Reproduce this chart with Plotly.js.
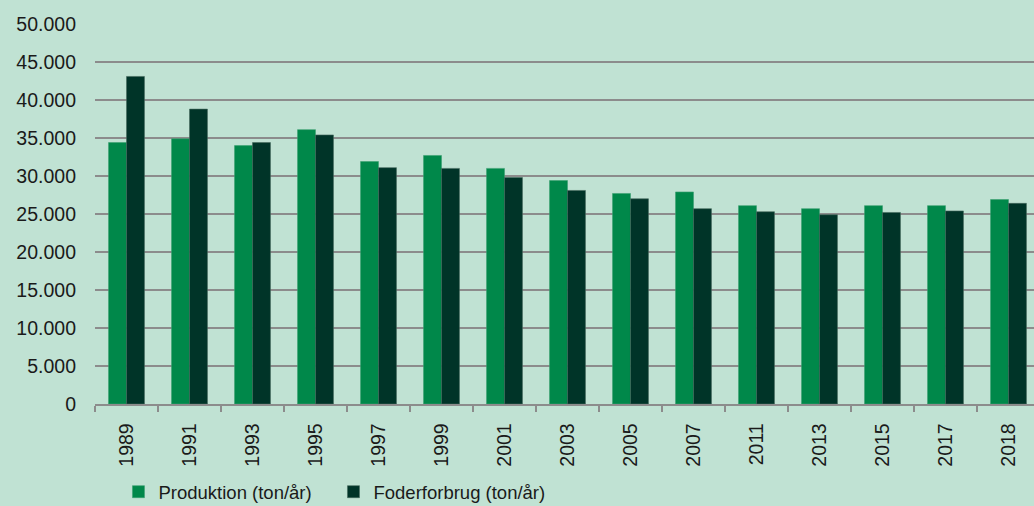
<!DOCTYPE html>
<html>
<head>
<meta charset="utf-8">
<script src="https://cdn.plot.ly/plotly-3.0.1.min.js"></script>
<style>html,body{margin:0;padding:0;background:#c0e2d3;}#chart{width:1034px;height:506px;}</style>
</head>
<body>
<div id="chart"></div>
<script>
const years = ["1989","1991","1993","1995","1997","1999","2001","2003","2005","2007","2011","2013","2015","2017","2018"];
const produktion = [34400, 34900, 34000, 36100, 31900, 32700, 31000, 29400, 27700, 27900, 26100, 25700, 26100, 26100, 26900];
const foderforbrug = [43100, 38800, 34400, 35400, 31100, 31000, 29800, 28100, 27000, 25700, 25300, 24900, 25200, 25400, 26400];
const yTicks = [0, 5000, 10000, 15000, 20000, 25000, 30000, 35000, 40000, 45000, 50000];
const yTickText = ["0", "5.000", "10.000", "15.000", "20.000", "25.000", "30.000", "35.000", "40.000", "45.000", "50.000"];

const traces = [
  {type: "bar", name: "Produktion (ton/år)", x: years, y: produktion,
   marker: {color: "#00884a", line: {color: "#3aa070", width: 0.6}}},
  {type: "bar", name: "Foderforbrug (ton/år)", x: years, y: foderforbrug,
   marker: {color: "#003428", line: {color: "#44685c", width: 0.6}}}
];

const layout = {
  width: 1034, height: 506,
  paper_bgcolor: "#c0e2d3", plot_bgcolor: "#c0e2d3",
  margin: {l: 95, r: 0, t: 24, b: 102, autoexpand: false},
  font: {family: "Liberation Sans, Arial, sans-serif", size: 19, color: "#1a1a1a"},
  barmode: "group", bargap: 0.43, bargroupgap: 0,
  xaxis: {type: "category", range: [-0.5, 14.405], tickangle: -90, automargin: false,
          showline: true, linecolor: "#8c8c8c", linewidth: 1.5,
          ticks: "outside", tickson: "boundaries", ticklen: 6, tickcolor: "#8c8c8c", tickwidth: 1.5,
          ticklabelstandoff: 10, tickfont: {size: 19.5}, showgrid: false, fixedrange: true},
  yaxis: {range: [0, 50000], tickvals: yTicks, ticktext: yTickText, automargin: false,
          showgrid: true, gridcolor: "#8c8c8c", gridwidth: 1.5, zeroline: false,
          showline: false, ticks: "", ticklabelstandoff: 18, tickfont: {size: 19.5}},
  showlegend: true,
  legend: {orientation: "h", x: 0.025, xanchor: "left", y: -0.232, yanchor: "middle",
           bgcolor: "rgba(0,0,0,0)", font: {size: 18.5}, itemwidth: 30, entrywidth: 170, traceorder: "normal"}
};
Plotly.newPlot("chart", traces, layout, {displayModeBar: false, staticPlot: true});
</script>
</body>
</html>
